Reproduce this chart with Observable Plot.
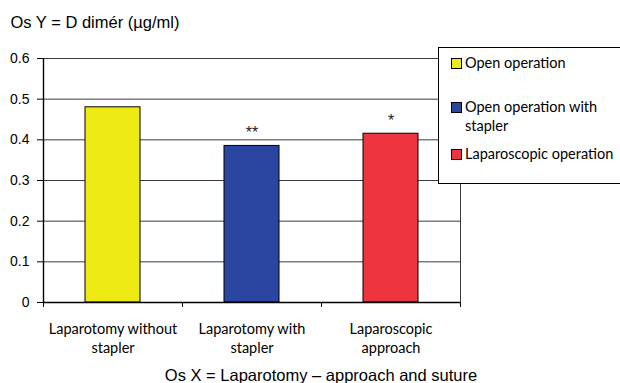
<!DOCTYPE html>
<html>
<head>
<meta charset="utf-8">
<script src="https://cdn.jsdelivr.net/npm/d3@7"></script>
<script src="https://cdn.jsdelivr.net/npm/@observablehq/plot@0.6"></script>
<style>
  body { margin: 0; background: #fff; }
  #wrap { position: relative; width: 620px; height: 383px; overflow: hidden; }
  #legend {
    position: absolute; left: 438px; top: 47px; width: 190px; height: 137px;
    border: 1px solid #000; background: #fff; box-sizing: border-box;
    font-family: Lato, "Open Sans", sans-serif; font-size: 14.5px; color: #000;
  }
  .item { position: absolute; left: 12px; display: flex; align-items: flex-start; line-height: 19px; }
  .sw { width: 9px; height: 9px; border: 1px solid #000; margin: 5px 3px 0 0; flex: none; }
</style>
</head>
<body>
<div id="wrap"></div>
<script>
// Mean D-dimer by surgical approach
const categories = ["Laparotomy without\nstapler", "Laparotomy with\nstapler", "Laparoscopic\napproach"];
const values = [0.48, 0.385, 0.415];
const marks = ["", "**", "*"];
const colors = ["#ece913", "#2b46a0", "#ee343f"];
const legendLabels = ["Open operation", "Open operation with\nstapler", "Laparoscopic operation"];
const yTicks = [0, 0.1, 0.2, 0.3, 0.4, 0.5, 0.6];

const data = categories.map((c, i) => ({i, c, v: values[i], m: marks[i], color: colors[i]}));

const chart = Plot.plot({
  width: 620,
  height: 383,
  marginLeft: 43,
  marginRight: 160,
  marginTop: 58,
  marginBottom: 81,
  style: {fontFamily: "'Liberation Sans', Arial, sans-serif", fontSize: "14px", color: "#000", background: "#fff"},
  x: {domain: [0, categories.length], axis: null},
  y: {domain: [0, 0.6], axis: null},
  marks: [
    // horizontal gridlines
    Plot.ruleY(yTicks, {stroke: "#3a3a3a", strokeWidth: 1}),
    // right border of the plot area
    Plot.ruleX([categories.length], {y1: 0, y2: 0.6, stroke: "#3a3a3a"}),
    // bars
    Plot.rectY(data, {x1: "i", x2: d => d.i + 1, y: "v", fill: "color", stroke: "#000", strokeWidth: 1, insetLeft: 42, insetRight: 42}),
    // significance stars
    Plot.text(data, {x: d => d.i + 0.5, y: "v", text: "m", dy: -13, fontSize: 16, fill: "#222"}),
    // y axis
    Plot.axisY({ticks: yTicks, tickSize: 6, tickPadding: 8, tickFormat: "~g", label: null, fontSize: 14}),
    Plot.ruleX([0], {y1: 0, y2: 0.6, stroke: "#000", strokeWidth: 1.4}),
    // x axis: ticks at category boundaries, labels centred in each band
    Plot.axisX({ticks: d3.range(categories.length + 1), tickSize: 5, tickFormat: () => "", label: null}),
    Plot.ruleY([0], {stroke: "#000", strokeWidth: 1.4}),
    Plot.text(data, {x: d => d.i + 0.5, y: 0, text: "c", lineAnchor: "top", dy: 18, fontSize: 14.5, lineHeight: 1.3, fontFamily: "Lato, 'Open Sans', sans-serif"}),
    // axis titles
    Plot.text(["Os Y = D dimér (µg/ml)"], {frameAnchor: "top-left", textAnchor: "start", lineAnchor: "bottom", dx: -33, dy: -31, fontSize: 16.5}),
    Plot.text(["Os X = Laparotomy – approach and suture"], {frameAnchor: "bottom", dx: 69, dy: 78, lineAnchor: "bottom", fontSize: 16.5})
  ]
});

const wrap = document.getElementById("wrap");
wrap.appendChild(chart);

// legend box
const legend = document.createElement("div");
legend.id = "legend";
const tops = [5, 49, 96];
legendLabels.forEach((label, i) => {
  const item = document.createElement("div");
  item.className = "item";
  item.style.top = tops[i] + "px";
  const sw = document.createElement("span");
  sw.className = "sw";
  sw.style.background = colors[i];
  const tx = document.createElement("span");
  tx.innerHTML = label.replace("\n", "<br>");
  item.appendChild(sw);
  item.appendChild(tx);
  legend.appendChild(item);
});
wrap.appendChild(legend);
</script>
</body>
</html>
